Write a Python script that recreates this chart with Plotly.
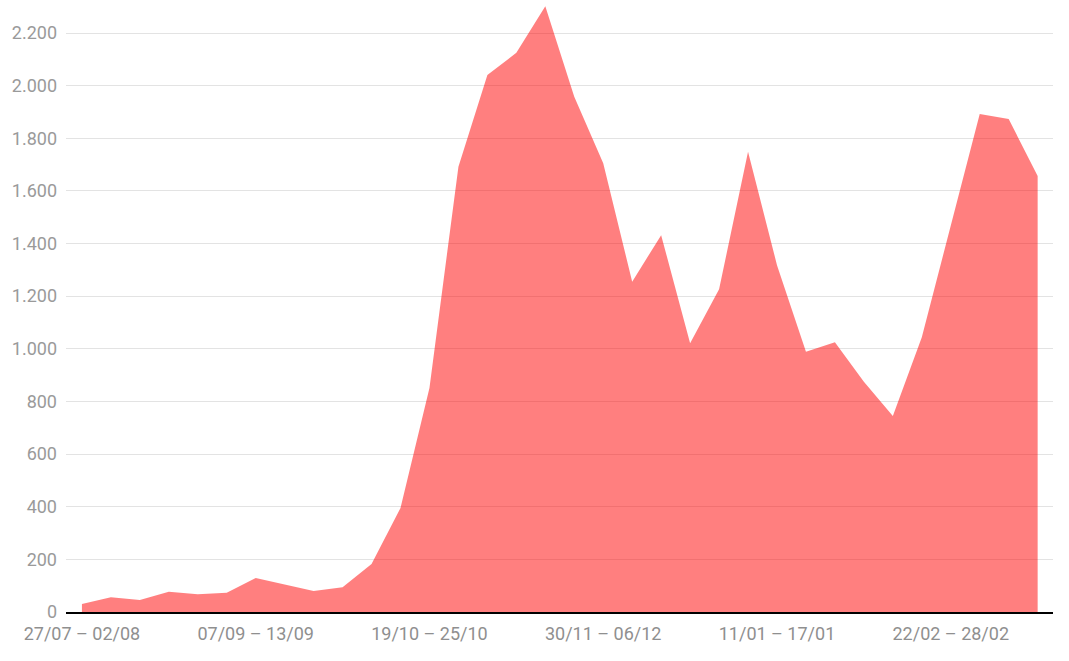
import plotly.graph_objects as go

weeks = [
    "27/07 – 02/08", "03/08 – 09/08", "10/08 – 16/08", "17/08 – 23/08",
    "24/08 – 30/08", "31/08 – 06/09", "07/09 – 13/09", "14/09 – 20/09",
    "21/09 – 27/09", "28/09 – 04/10", "05/10 – 11/10", "12/10 – 18/10",
    "19/10 – 25/10", "26/10 – 01/11", "02/11 – 08/11", "09/11 – 15/11",
    "16/11 – 22/11", "23/11 – 29/11", "30/11 – 06/12", "07/12 – 13/12",
    "14/12 – 20/12", "21/12 – 27/12", "28/12 – 03/01", "04/01 – 10/01",
    "11/01 – 17/01", "18/01 – 24/01", "25/01 – 31/01", "01/02 – 07/02",
    "08/02 – 14/02", "15/02 – 21/02", "22/02 – 28/02", "01/03 – 07/03",
    "08/03 – 14/03", "15/03 – 21/03",
]

values = [
    30, 56, 46, 77, 67, 73, 129, 105, 80, 94, 182, 395,
    851, 1692, 2040, 2125, 2302, 1958, 1705, 1255, 1432, 1021,
    1226, 1749, 1318, 989, 1025, 875, 745, 1044, 1466, 1892, 1873, 1657,
]

tick_labels = ["27/07 – 02/08", "07/09 – 13/09", "19/10 – 25/10",
               "30/11 – 06/12", "11/01 – 17/01", "22/02 – 28/02"]
y_ticks = [0, 200, 400, 600, 800, 1000, 1200, 1400, 1600, 1800, 2000, 2200]

fig = go.Figure()
fig.add_trace(go.Scatter(
    x=weeks, y=values, mode="lines", fill="tozeroy",
    fillcolor="rgba(255,0,0,0.5)", line=dict(width=0, color="rgba(255,0,0,0)"),
    hoverinfo="x+y",
))

fig.update_layout(
    width=1069, height=661,
    margin=dict(l=66, r=16, t=3, b=49),
    plot_bgcolor="white", paper_bgcolor="white",
    showlegend=False,
    separators=",.",
    font=dict(family="Roboto", size=18, color="#9a9a9a"),
)
fig.update_xaxes(
    type="category", categoryorder="array", categoryarray=weeks,
    range=[-0.55, 33.53],
    tickmode="array", tickvals=tick_labels, ticktext=tick_labels,
    showgrid=False, showline=True, linecolor="black", linewidth=2,
    ticks="", ticklabelstandoff=4, tickfont=dict(size=18, color="#8f8f8f"),
)
fig.update_yaxes(
    range=[0, 2314], tickmode="array", tickvals=y_ticks, tickformat=",d",
    showgrid=True, gridcolor="#e3e3e3", gridwidth=1,
    zeroline=False, showline=False, ticks="", ticklabelstandoff=8,
    tickfont=dict(size=18, color="#9a9a9a"),
)

fig.write_html("out.html", config={"displayModeBar": False},
               post_script="document.body.style.margin='0';")
